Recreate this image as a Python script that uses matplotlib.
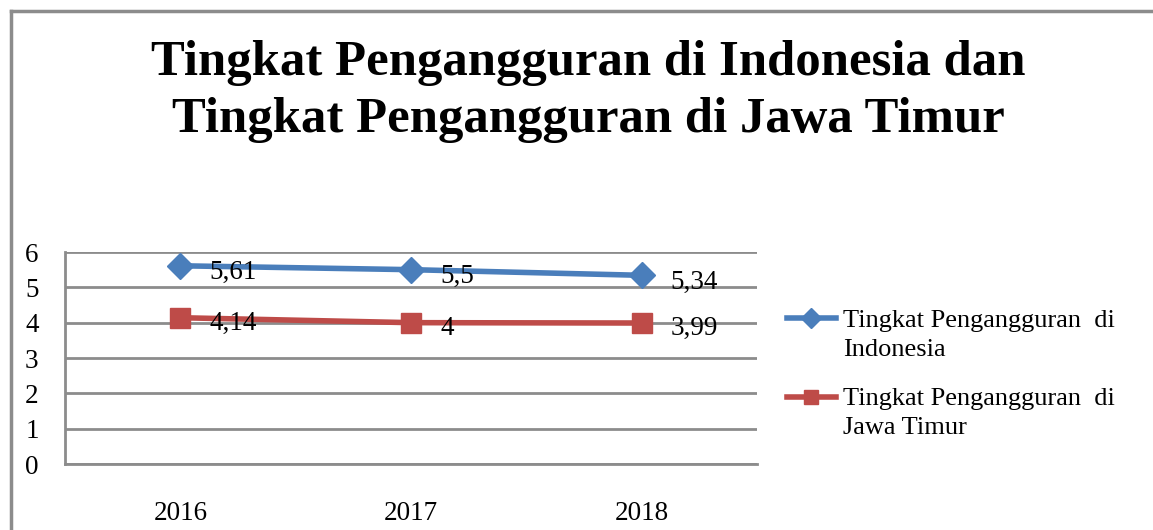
import matplotlib.pyplot as plt
from matplotlib.lines import Line2D
from matplotlib.legend_handler import HandlerLine2D

# data
years = ['2016', '2017', '2018']
indonesia = [5.61, 5.5, 5.34]
jatim = [4.14, 4.0, 3.99]
labels_indonesia = ['5,61', '5,5', '5,34']
labels_jatim = ['4,14', '4', '3,99']

blue = '#4A7EBB'
red = '#BE4B48'
grid = '#8C8C8C'

plt.rcParams['font.family'] = ['Liberation Serif', 'DejaVu Serif']


# keep the legend handle level with the first line of its label
class HandlerTop(HandlerLine2D):
    def create_artists(self, legend, orig_handle, xdescent, ydescent, width, height, fontsize, trans):
        return super().create_artists(legend, orig_handle, xdescent, ydescent - 23, width, height,
                                      fontsize, trans)


fig = plt.figure(figsize=(11.53, 5.30), dpi=100)
ax = fig.add_axes([65 / 1153, 1 - 464 / 530, 692 / 1153, 212 / 530])

x = range(len(years))
l1, = ax.plot(x, indonesia, color=blue, lw=4, marker='D', ms=13, label='Tingkat Pengangguran  di\nIndonesia')
l2, = ax.plot(x, jatim, color=red, lw=4, marker='s', ms=14, label='Tingkat Pengangguran  di\nJawa Timur')

for i in x:
    ax.annotate(labels_indonesia[i], (i, indonesia[i]), xytext=(21, -5), textcoords='offset points',
                fontsize=19.5, va='center', ha='left')
    ax.annotate(labels_jatim[i], (i, jatim[i]), xytext=(21, -4), textcoords='offset points',
                fontsize=19.5, va='center', ha='left')

ax.set_xlim(-0.5, 2.5)
ax.set_ylim(0, 6)
ax.set_yticks(range(7))
ax.set_xticks(list(x))
ax.set_xticklabels(years)
ax.tick_params(length=0, labelsize=19.5)
ax.tick_params(axis='y', pad=19)
ax.tick_params(axis='x', pad=27)
ax.grid(axis='y', color=grid, lw=2)
ax.set_axisbelow(True)
for s in ['top', 'right']:
    ax.spines[s].set_visible(False)
for s in ['left', 'bottom']:
    ax.spines[s].set_color(grid)
    ax.spines[s].set_linewidth(2)

leg = fig.legend(handles=[l1, l2], loc='upper left', bbox_to_anchor=(763 / 1153, 1 - 286 / 530),
                 frameon=False, fontsize=19, handlelength=1.85, handletextpad=0.3, labelspacing=1.05,
                 markerscale=0.75, handler_map={Line2D: HandlerTop()})
for t in leg.get_texts():
    t.set_linespacing(1.4)

fig.text(588 / 1153, 1 - 75 / 530, 'Tingkat Pengangguran di Indonesia dan', ha='center', va='baseline',
         fontsize=36.5, fontweight='bold')
fig.text(588 / 1153, 1 - 132 / 530, 'Tingkat Pengangguran di Jawa Timur', ha='center', va='baseline',
         fontsize=36.5, fontweight='bold')

# outer chart frame
fig.add_artist(Line2D([11 / 1153, 1], [1 - 11 / 530, 1 - 11 / 530], color=grid, lw=2.5))
fig.add_artist(Line2D([11 / 1153, 11 / 1153], [0, 1 - 11 / 530], color=grid, lw=2.5))

fig.savefig('out.png', dpi=100)
